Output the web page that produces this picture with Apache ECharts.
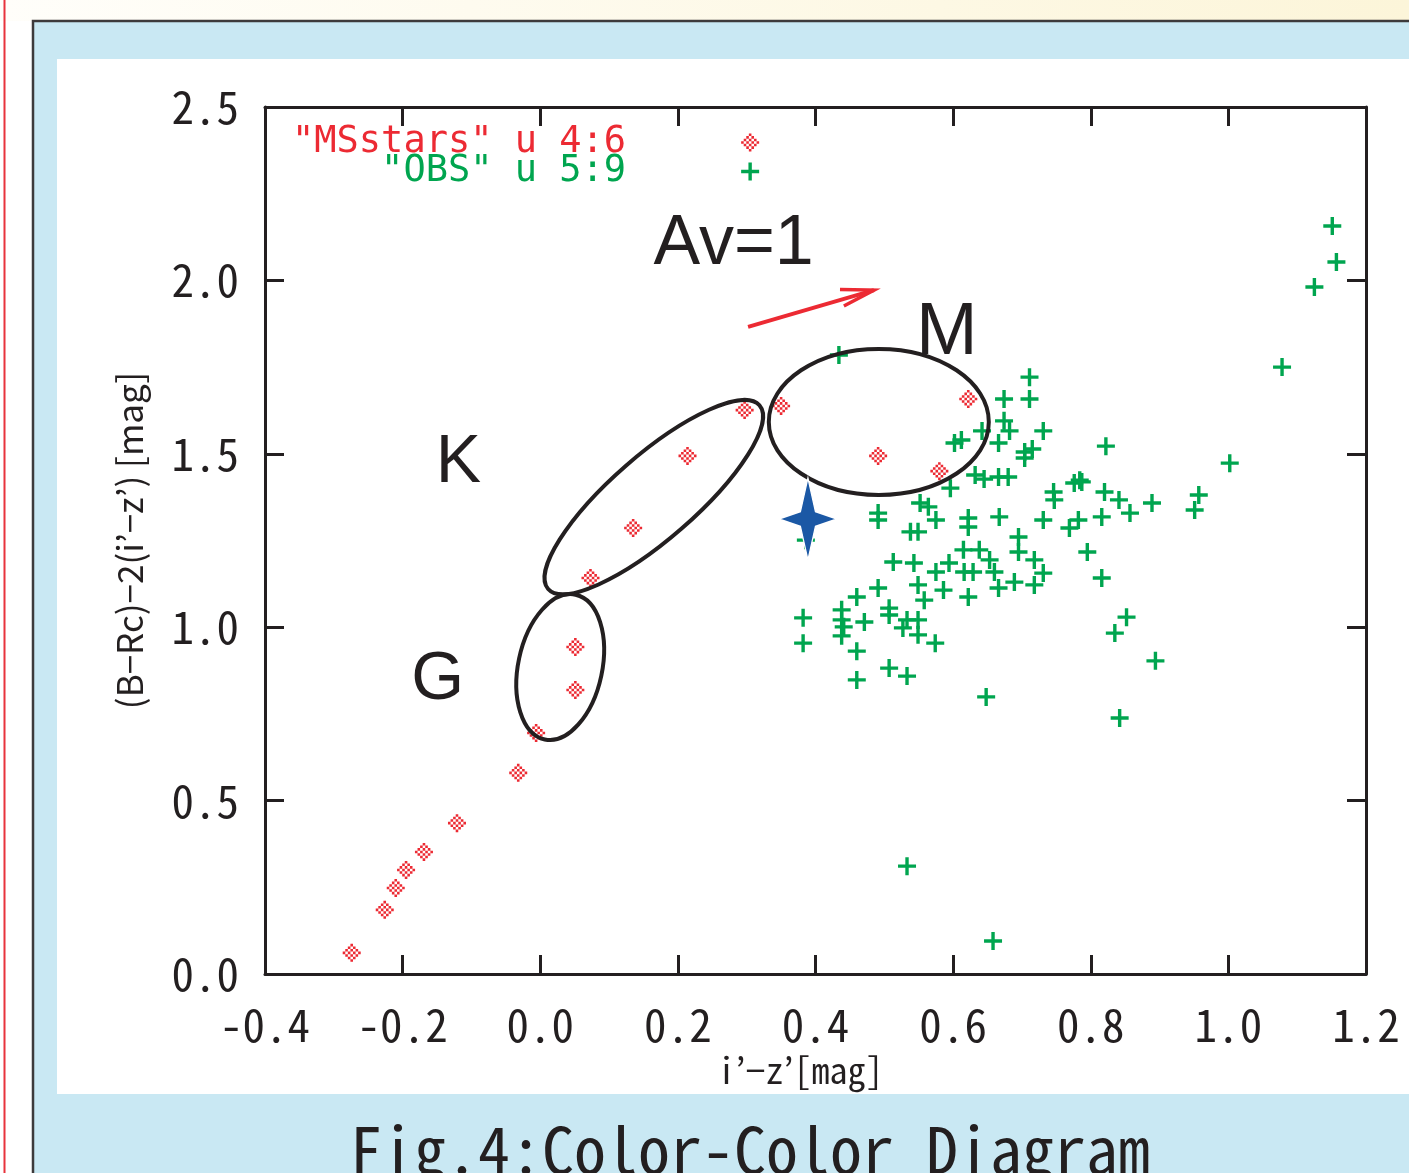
<!DOCTYPE html>
<html>
<head>
<meta charset="utf-8">
<title>Fig.4 Color-Color Diagram</title>
<script src="https://cdn.jsdelivr.net/npm/echarts@6/dist/echarts.min.js"></script>
<style>
  html, body { margin: 0; padding: 0; background: #fff; }
  #chart { width: 1409px; height: 1173px; }
</style>
</head>
<body>
<div id="chart"></div>
<script>
let chart = echarts.init(document.getElementById('chart'));

// 主系列星 "MSstars" u 4:6
let msX = [-0.274, -0.226, -0.210, -0.195, -0.169, -0.121, -0.032, -0.006, 0.051, 0.051,
           0.073, 0.135, 0.214, 0.297, 0.350, 0.491, 0.580, 0.622];
let msY = [0.061, 0.185, 0.248, 0.300, 0.352, 0.435, 0.580, 0.695, 0.819, 0.943,
           1.142, 1.286, 1.494, 1.626, 1.638, 1.494, 1.450, 1.658];

// 観測 "OBS" u 5:9
let obsX = [1.151, 1.157, 1.125, 1.078, 1.002, 0.957, 0.951, 0.889, 0.857, 0.841,
            0.822, 0.820, 0.816, 0.795, 0.816, 0.852, 0.835, 0.894, 0.842, 0.648,
            0.533, 0.658, 0.434, 0.711, 0.674, 0.711, 0.674, 0.682, 0.731, 0.642,
            0.612, 0.602, 0.666, 0.704, 0.715, 0.704, 0.632, 0.645, 0.666, 0.680,
            0.596, 0.746, 0.747, 0.784, 0.776, 0.552, 0.564, 0.491, 0.491, 0.575,
            0.622, 0.622, 0.667, 0.731, 0.782, 0.769, 0.538, 0.549, 0.695, 0.695,
            0.615, 0.638, 0.653, 0.513, 0.543, 0.594, 0.575, 0.616, 0.629, 0.660,
            0.666, 0.689, 0.718, 0.731, 0.718, 0.549, 0.491, 0.586, 0.622, 0.558,
            0.460, 0.438, 0.438, 0.441, 0.438, 0.471, 0.460, 0.460, 0.507, 0.507,
            0.507, 0.533, 0.533, 0.527, 0.549, 0.549, 0.574, 0.382, 0.382, 0.787,
            0.386];
let obsY = [2.157, 2.053, 1.981, 1.750, 1.473, 1.381, 1.338, 1.358, 1.329, 1.367,
            1.522, 1.390, 1.318, 1.217, 1.142, 1.029, 0.983, 0.903, 0.738, 0.799,
            0.311, 0.095, 1.785, 1.721, 1.658, 1.658, 1.595, 1.566, 1.566, 1.566,
            1.540, 1.531, 1.531, 1.505, 1.514, 1.488, 1.439, 1.427, 1.433, 1.433,
            1.401, 1.390, 1.367, 1.424, 1.416, 1.358, 1.347, 1.329, 1.309, 1.309,
            1.315, 1.289, 1.318, 1.309, 1.309, 1.286, 1.275, 1.275, 1.260, 1.217,
            1.223, 1.223, 1.194, 1.188, 1.185, 1.185, 1.159, 1.159, 1.159, 1.159,
            1.113, 1.130, 1.194, 1.156, 1.122, 1.122, 1.113, 1.107, 1.087, 1.078,
            1.087, 1.050, 1.021, 1.001, 0.975, 1.015, 0.931, 0.848, 1.055, 1.035,
            0.882, 0.859, 1.021, 0.998, 1.021, 0.978, 0.954, 1.027, 0.954, 1.419,
            1.251];

// 対象天体
let starX = [0.389];
let starY = [1.312];

// G/K/M のグループ (楕円の中心)
let groupNames = ['G', 'K', 'M'];
let groupX = [0.029, 0.165, 0.492];
let groupY = [0.885, 1.375, 1.592];
let labelX = [-0.149, -0.119, 0.591];
let labelY = [0.848, 1.473, 1.848];

// 減光ベクトル Av=1
let avText = 'Av=1';
let avLabel = [0.281, 2.102];
let avFrom = [0.302, 1.866];
let avTo = [0.485, 1.972];

// 目盛り
let xTicks = [-0.4, -0.2, 0.0, 0.2, 0.4, 0.6, 0.8, 1.0, 1.2];
let yTicks = [0.0, 0.5, 1.0, 1.5, 2.0, 2.5];

let legendText = {
  MSstars: '"MSstars" u 4:6',
  OBS: '    "OBS" u 5:9'
};

let red = '#ec2a33';
let green = '#00a54f';
let ink = '#231f20';
let blue = '#1b58a5';
let mono = '"Noto Sans Mono CJK JP", "DejaVu Sans Mono", monospace';
let pixelFont = '"DejaVu Sans Mono", monospace';

// gnuplot 風の市松ダイヤ
let diamondPath = 'path://';
for (let i = -3; i <= 3; i++) {
  for (let j = -3; j <= 3; j++) {
    if (Math.abs(i) + Math.abs(j) <= 3 && (i + j) % 2 !== 0) {
      let x0 = i - 0.5, y0 = j - 0.5;
      diamondPath += `M${x0},${y0}L${x0 + 1},${y0}L${x0 + 1},${y0 + 1}L${x0},${y0 + 1}Z`;
    }
  }
}
let plusPath = 'path://M-1.7,-9L1.7,-9L1.7,-1.7L9,-1.7L9,1.7L1.7,1.7L1.7,9L-1.7,9L-1.7,1.7L-9,1.7L-9,-1.7L-1.7,-1.7Z';
let starPath = 'path://M0,-41L7.5,-7.5L29,0L7.5,7.5L0,41L-7.5,7.5L-29,0L-7.5,-7.5Z';

// 楕円の形 (px)
let ellipseShape = [
  { rx: 74, ry: 42, rot: 78 },
  { rx: 140, ry: 42, rot: 41 },
  { rx: 110, ry: 73, rot: 0 }
];
let letterSize = [68, 68, 74];

function tickFmt(v) {
  return v.toFixed(1);
}

function axisBase(extra) {
  return Object.assign({
    type: 'value',
    axisLine: { show: true, onZero: false, lineStyle: { color: ink, width: 3 } },
    axisTick: { show: true, inside: true, length: 19, lineStyle: { color: ink, width: 3 } },
    splitLine: { show: false }
  }, extra);
}

let xRange = { min: xTicks[0], max: xTicks[xTicks.length - 1], interval: 0.2 };
let yRange = { min: yTicks[0], max: yTicks[yTicks.length - 1], interval: 0.5 };

chart.setOption({
  animation: false,
  backgroundColor: '#ffffff',
  graphic: {
    elements: [
      {
        type: 'rect', z: -10, silent: true,
        shape: { x: 0, y: 0, width: 1409, height: 21 },
        style: {
          fill: new echarts.graphic.LinearGradient(0, 0, 1, 0, [
            { offset: 0, color: '#fffefa' },
            { offset: 1, color: '#fcf5d9' }
          ])
        }
      },
      {
        type: 'rect', z: -10, silent: true,
        shape: { x: 33, y: 21, width: 1376, height: 1152 },
        style: { fill: '#c9e8f3' }
      },
      {
        type: 'polyline', z: -9, silent: true,
        shape: { points: [[33, 1173], [33, 21], [1409, 21]] },
        style: { stroke: '#3d3a3b', lineWidth: 2.5, fill: null }
      },
      {
        type: 'rect', z: -9, silent: true,
        shape: { x: 57, y: 59, width: 1352, height: 1035 },
        style: { fill: '#ffffff' }
      },
      {
        type: 'rect', z: -9, silent: true,
        shape: { x: 3.5, y: 0, width: 2, height: 1173 },
        style: { fill: '#e8333c' }
      },
      {
        type: 'text', z: 10, silent: true,
        x: 750, y: 1118,
        style: {
          text: 'Fig.4:Color-Color Diagram',
          font: '64px ' + mono,
          fill: ink,
          align: 'center',
          verticalAlign: 'top'
        }
      }
    ]
  },
  grid: {
    left: 265, right: 43, top: 107, bottom: 199,
    containLabel: false,
    outerBoundsMode: 'none'
  },
  legend: {
    data: [
      { name: 'MSstars', textStyle: { color: red } },
      { name: 'OBS', textStyle: { color: green } }
    ],
    orient: 'vertical',
    align: 'right',
    left: 287,
    top: 119,
    itemWidth: 238,
    itemHeight: 18,
    itemGap: -8,
    selectedMode: false,
    formatter: name => legendText[name],
    textStyle: { fontFamily: pixelFont, fontSize: 37 }
  },
  xAxis: [
    axisBase(Object.assign({
      position: 'bottom',
      name: 'i’−z’[mag]',
      nameLocation: 'middle',
      nameGap: 74,
      nameTextStyle: { color: ink, fontFamily: mono, fontSize: 36, padding: [0, 30, 0, 0] },
      axisLabel: { color: ink, fontFamily: mono, fontSize: 45, margin: 28, formatter: tickFmt }
    }, xRange)),
    axisBase(Object.assign({
      position: 'top',
      axisLabel: { show: false }
    }, xRange))
  ],
  yAxis: [
    axisBase(Object.assign({
      position: 'left',
      name: '(B−Rc)−2(i’−z’) [mag]',
      nameLocation: 'middle',
      nameGap: 118,
      nameRotate: 90,
      nameTextStyle: { color: ink, fontFamily: '"Noto Sans CJK JP", "Liberation Sans", sans-serif', fontSize: 35 },
      axisLabel: { color: ink, fontFamily: mono, fontSize: 45, margin: 26, formatter: tickFmt }
    }, yRange)),
    axisBase(Object.assign({
      position: 'right',
      axisLabel: { show: false }
    }, yRange))
  ],
  series: [
    {
      name: 'OBS',
      type: 'scatter',
      z: 2,
      symbol: plusPath,
      symbolSize: 18,
      itemStyle: { color: green, opacity: 1 },
      data: obsX.map((x, i) => [x, obsY[i]])
    },
    {
      name: 'MSstars',
      type: 'scatter',
      z: 3,
      symbol: diamondPath,
      symbolSize: 18,
      itemStyle: { color: red, opacity: 1 },
      data: msX.map((x, i) => [x, msY[i]])
    },
    {
      name: 'groups',
      type: 'custom',
      z: 4,
      silent: true,
      clip: false,
      data: groupX.map((x, i) => [x, groupY[i]]),
      renderItem(params, api) {
        let c = api.coord([api.value(0), api.value(1)]);
        let e = ellipseShape[params.dataIndex];
        return {
          type: 'ellipse',
          x: c[0], y: c[1],
          rotation: e.rot * Math.PI / 180,
          shape: { cx: 0, cy: 0, rx: e.rx, ry: e.ry },
          style: { fill: null, stroke: ink, lineWidth: 4 }
        };
      }
    },
    {
      name: 'letters',
      type: 'custom',
      z: 5,
      silent: true,
      clip: false,
      data: labelX.map((x, i) => [x, labelY[i]]),
      renderItem(params, api) {
        let c = api.coord([api.value(0), api.value(1)]);
        return {
          type: 'text',
          x: c[0], y: c[1],
          style: {
            text: groupNames[params.dataIndex],
            font: letterSize[params.dataIndex] + 'px "Liberation Sans", Arial, sans-serif',
            fill: ink,
            align: 'center',
            verticalAlign: 'middle'
          }
        };
      }
    },
    {
      name: 'reddening',
      type: 'custom',
      z: 5,
      silent: true,
      clip: false,
      data: [[avFrom[0], avFrom[1], avTo[0], avTo[1], avLabel[0], avLabel[1]]],
      renderItem(params, api) {
        let p0 = api.coord([api.value(0), api.value(1)]);
        let p1 = api.coord([api.value(2), api.value(3)]);
        let t = api.coord([api.value(4), api.value(5)]);
        let ang = Math.atan2(p0[1] - p1[1], p0[0] - p1[0]);
        let len = 34;
        let barb = d => [p1[0] + len * Math.cos(ang + d), p1[1] + len * Math.sin(ang + d)];
        return {
          type: 'group',
          children: [
            {
              type: 'line',
              shape: { x1: p0[0], y1: p0[1], x2: p1[0], y2: p1[1] },
              style: { stroke: red, lineWidth: 4 }
            },
            {
              type: 'polyline',
              shape: { points: [barb(-0.2), p1, barb(0.3)] },
              style: { stroke: red, lineWidth: 3.5, fill: null }
            },
            {
              type: 'text',
              x: t[0], y: t[1],
              style: {
                text: avText,
                font: '70px "Liberation Sans", Arial, sans-serif',
                fill: ink,
                align: 'center',
                verticalAlign: 'middle'
              }
            }
          ]
        };
      }
    },
    {
      name: 'target',
      type: 'scatter',
      z: 6,
      symbol: starPath,
      symbolSize: [58, 82],
      symbolKeepAspect: false,
      itemStyle: { color: blue, borderColor: '#ffffff', borderWidth: 1.5, opacity: 1 },
      data: starX.map((x, i) => [x, starY[i]])
    }
  ]
});
</script>
</body>
</html>
